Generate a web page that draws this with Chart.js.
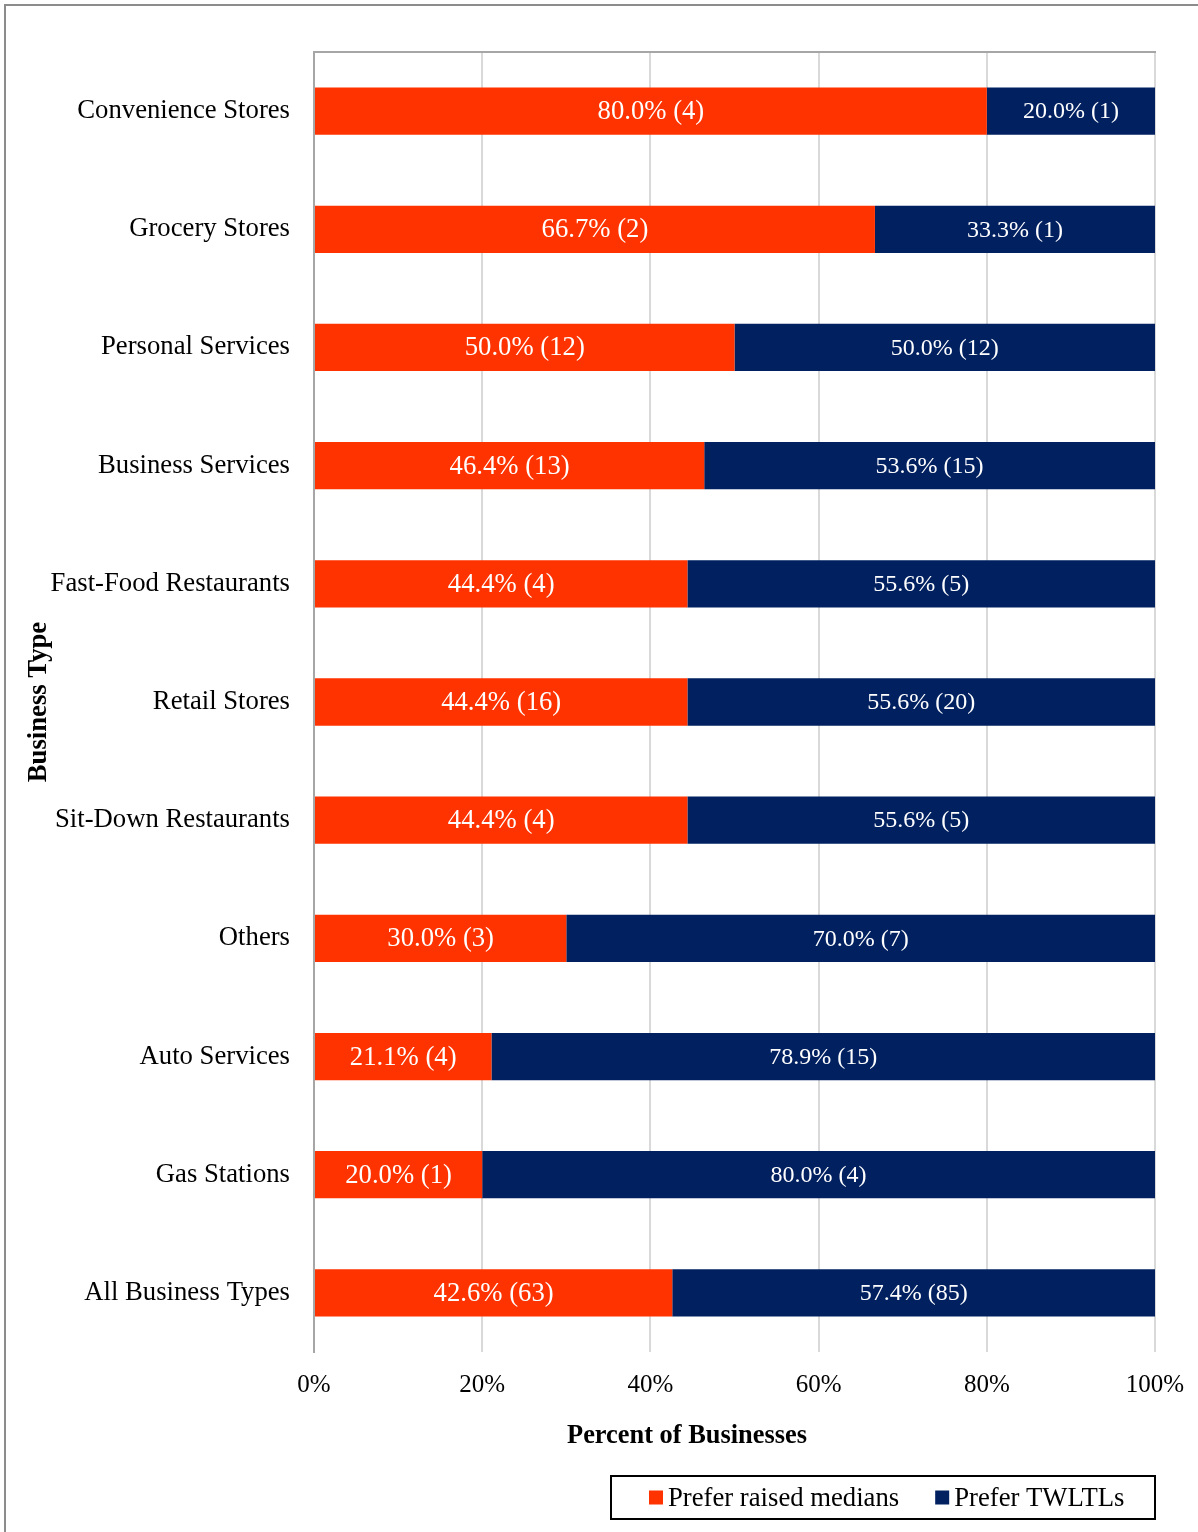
<!DOCTYPE html>
<html>
<head>
<meta charset="utf-8">
<title>Business type preference</title>
<script src="https://cdn.jsdelivr.net/npm/chart.js@4.4.1/dist/chart.umd.min.js"></script>
<style>
  html, body { margin: 0; padding: 0; background: #fff; }
  canvas { display: block; }
</style>
</head>
<body>
<canvas id="prefChart" width="1198" height="1532"></canvas>
<script>
// Data
const categories = [
    'Convenience Stores', 'Grocery Stores', 'Personal Services', 'Business Services',
    'Fast-Food Restaurants', 'Retail Stores', 'Sit-Down Restaurants', 'Others',
    'Auto Services', 'Gas Stations', 'All Business Types'
];
const raisedPct = [80.0, 66.7, 50.0, 46.4, 44.4, 44.4, 44.4, 30.0, 21.1, 20.0, 42.6];
const raisedCount = [4, 2, 12, 13, 4, 16, 4, 3, 4, 1, 63];
const twltlPct = [20.0, 33.3, 50.0, 53.6, 55.6, 55.6, 55.6, 70.0, 78.9, 80.0, 57.4];
const twltlCount = [1, 1, 12, 15, 5, 20, 5, 7, 15, 4, 85];
const xTicks = [0, 20, 40, 60, 80, 100];

const FONT = "'Liberation Serif', 'Times New Roman', serif";
const RED = '#ff3300';
const NAVY = '#002060';
// red segment labels are a bit larger than the navy ones in the original
const labelSizes = [26.7, 24];

// outer frame, top border of plot area, x axis title
const framePlugin = {
    id: 'frame',
    beforeDraw(chart) {
        const ctx = chart.ctx;
        ctx.save();
        ctx.fillStyle = '#fff';
        ctx.fillRect(0, 0, chart.width, chart.height);
        ctx.strokeStyle = '#8c8c8c';
        ctx.lineWidth = 2;
        ctx.beginPath();
        ctx.moveTo(5, chart.height + 5);
        ctx.lineTo(5, 5);
        ctx.lineTo(chart.width + 5, 5);
        ctx.stroke();
        ctx.restore();
    },
    afterDraw(chart) {
        const ctx = chart.ctx;
        const a = chart.chartArea;
        ctx.save();
        ctx.strokeStyle = '#a6a6a6';
        ctx.lineWidth = 2;
        ctx.beginPath();
        ctx.moveTo(a.left - 1, a.top);
        ctx.lineTo(a.right + 1, a.top);
        ctx.stroke();

        // x title sits left of the plot centre in the original
        ctx.fillStyle = '#000';
        ctx.font = 'bold 26.4px ' + FONT;
        ctx.textAlign = 'center';
        ctx.textBaseline = 'middle';
        ctx.fillText('Percent of Businesses', 687, 1436);
        ctx.restore();
    }
};

// value labels centred in each segment
const labelPlugin = {
    id: 'segLabels',
    afterDatasetsDraw(chart) {
        const ctx = chart.ctx;
        ctx.save();
        ctx.fillStyle = '#fff';
        ctx.textAlign = 'center';
        ctx.textBaseline = 'middle';
        chart.data.datasets.forEach((ds, i) => {
            ctx.font = labelSizes[i] + 'px ' + FONT;
            const meta = chart.getDatasetMeta(i);
            meta.data.forEach((bar, j) => {
                const txt = ds.data[j].toFixed(1) + '% (' + ds.counts[j] + ')';
                ctx.fillText(txt, (bar.x + bar.base) / 2, bar.y + 1);
            });
        });
        ctx.restore();
    }
};

// boxed legend below the axis title
const legendPlugin = {
    id: 'boxLegend',
    afterDraw(chart) {
        const ctx = chart.ctx;
        const right = chart.chartArea.right;
        const left = 611, top = 1476, bottom = 1519;
        ctx.save();
        ctx.strokeStyle = '#000';
        ctx.lineWidth = 2;
        ctx.strokeRect(left, top, right - left, bottom - top);
        ctx.font = '26.7px ' + FONT;
        ctx.textBaseline = 'middle';
        ctx.textAlign = 'left';
        const midY = (top + bottom) / 2;
        let x = left + 38;
        chart.data.datasets.forEach(ds => {
            ctx.fillStyle = ds.backgroundColor;
            ctx.fillRect(x, midY - 7, 14, 14);
            ctx.fillStyle = '#000';
            ctx.fillText(ds.label, x + 19, midY + 1);
            x += 19 + ctx.measureText(ds.label).width + 36;
        });
        ctx.restore();
    }
};

const ctx = document.getElementById('prefChart').getContext('2d');
new Chart(ctx, {
    type: 'bar',
    data: {
        labels: categories,
        datasets: [{
            label: 'Prefer raised medians',
            data: raisedPct,
            counts: raisedCount,
            backgroundColor: RED
        }, {
            label: 'Prefer TWLTLs',
            data: twltlPct,
            counts: twltlCount,
            backgroundColor: NAVY
        }]
    },
    options: {
        indexAxis: 'y',
        responsive: false,
        animation: false,
        barPercentage: 0.4,
        categoryPercentage: 1.0,
        layout: {
            padding: { left: 23, top: 52, right: 43, bottom: 80 }
        },
        plugins: {
            legend: { display: false },
            tooltip: { enabled: false }
        },
        scales: {
            x: {
                stacked: true,
                min: 0,
                max: 100,
                afterBuildTicks(scale) {
                    scale.ticks = xTicks.map(v => ({ value: v }));
                },
                afterFit(scale) {
                    scale.height = 100;
                    // let the layout padding alone decide the plot edges
                    scale.paddingLeft = 0;
                    scale.paddingRight = 0;
                },
                ticks: {
                    callback: v => v + '%',
                    color: '#000',
                    padding: 18,
                    font: { family: FONT, size: 25 }
                },
                grid: {
                    color: '#d9d9d9',
                    lineWidth: 2,
                    drawTicks: false
                },
                border: { display: false },
                title: { display: false }
            },
            y: {
                stacked: true,
                afterFit(scale) { scale.width = 291; },
                ticks: {
                    color: '#000',
                    padding: 24,
                    font: { family: FONT, size: 26.7 }
                },
                grid: { display: false, drawTicks: false },
                border: { display: true, color: '#a6a6a6', width: 2 },
                title: {
                    display: true,
                    text: 'Business Type',
                    color: '#000',
                    padding: 0,
                    font: { family: FONT, size: 26.7, weight: 'bold' }
                }
            }
        }
    },
    plugins: [framePlugin, labelPlugin, legendPlugin]
});
</script>
</body>
</html>
